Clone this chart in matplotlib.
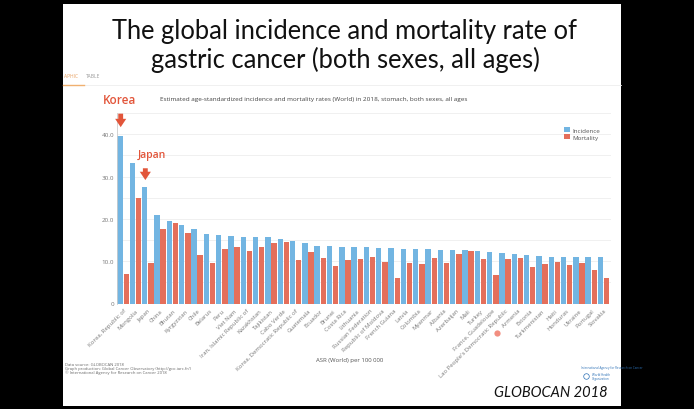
import matplotlib
matplotlib.use("Agg")
import matplotlib.pyplot as plt
from matplotlib.patches import Rectangle
import numpy as np

countries = ["Korea, Republic of", "Mongolia", "Japan", "China", "Bhutan", "Kyrgyzstan",
             "Chile", "Belarus", "Peru", "Viet Nam", "Iran, Islamic Republic of",
             "Kazakhstan", "Tajikistan", "Cabo Verde", "Korea, Democratic Republic of",
             "Guatemala", "Ecuador", "Brunei", "Costa Rica", "Lithuania",
             "Russian Federation", "Republic of Moldova", "French Guiana", "Latvia",
             "Colombia", "Myanmar", "Albania", "Azerbaijan", "Mali", "Turkey",
             "France, Guadeloupe", "Lao People's Democratic Republic", "Armenia",
             "Estonia", "Turkmenistan", "Haiti", "Honduras", "Ukraine", "Portugal",
             "Slovakia"]
incidence = [39.6, 33.2, 27.5, 20.8, 19.4, 18.6, 17.7, 16.5, 16.1, 15.9, 15.8, 15.7,
             15.6, 15.3, 14.7, 14.4, 13.7, 13.6, 13.4, 13.3, 13.3, 13.0, 13.0, 12.9,
             12.8, 12.8, 12.7, 12.7, 12.6, 12.5, 12.2, 11.9, 11.6, 11.4, 11.2, 11.1,
             11.1, 11.1, 11.1, 11.0]
mortality = [7.0, 24.9, 9.5, 17.5, 18.9, 16.7, 11.5, 9.6, 12.8, 13.4, 12.3, 13.4,
             14.4, 14.6, 10.3, 12.1, 10.8, 8.8, 10.2, 10.6, 10.9, 9.9, 6.0, 9.5,
             9.4, 10.7, 9.6, 11.8, 12.3, 10.4, 6.7, 10.5, 10.7, 8.6, 9.4, 9.9,
             9.0, 9.6, 7.8, 6.0]
yticks = [0, 10, 20, 30, 40]
ytick_labels = ["0", "10.0", "20.0", "30.0", "40.0"]

blue = "#72B5E2"
red = "#E46F5B"
grey = "#777777"

fig = plt.figure(figsize=(6.94, 4.10), dpi=100, facecolor="black")
W, H = 694, 410

def fx(px):
    return px / W

def fy(py):
    return 1 - py / H

# white slide
fig.patches.append(Rectangle((fx(63), fy(407)), fx(621) - fx(63), fy(5) - fy(407),
                             transform=fig.transFigure, facecolor="white",
                             edgecolor="none", zorder=-5))

# slide title
title_font = ["Lato", "DejaVu Sans"]
fig.text(fx(345), fy(31), "The global incidence and mortality rate of", ha="center",
         va="center", fontsize=18.4, family=title_font, color="#111111")
fig.text(fx(345), fy(60), "gastric cancer (both sexes, all ages)", ha="center",
         va="center", fontsize=18.4, family=title_font, color="#111111")

chart_font = ["Open Sans", "DejaVu Sans"]
# tabs
fig.text(fx(64), fy(77), "APHIC", fontsize=3.5, color="#E8A060", family=chart_font, va="center")
fig.text(fx(86), fy(77), "TABLE", fontsize=3.5, color="#999999", family=chart_font, va="center")
fig.add_artist(plt.Line2D([fx(63), fx(621)], [fy(86), fy(86)], color="#eeeeee", lw=0.6))
fig.add_artist(plt.Line2D([fx(63), fx(84)], [fy(86), fy(86)], color="#F0B070", lw=1.0))

fig.text(fx(103), fy(100), "Korea", fontsize=8.5, color="#E2553A", family=chart_font,
         va="center", fontweight="semibold")
fig.text(fx(160), fy(100), "Estimated age-standardized incidence and mortality rates (World) "
         "in 2018, stomach, both sexes, all ages", fontsize=4.6, color="#444444",
         family=chart_font, va="center")

ax = fig.add_axes([fx(117), fy(304.5), fx(611) - fx(117), fy(114) - fy(304.5)])
ax.set_zorder(2)
ax.set_facecolor("white")
x = np.arange(len(countries))
w = 0.44
ax.bar(x - w / 2 - 0.03, incidence, w, color=blue, label="Incidence", zorder=2)
ax.bar(x + w / 2 + 0.03, mortality, w, color=red, label="Mortality", zorder=2)
ax.set_xlim(-0.5, 39.6)
ax.set_ylim(0, 45)
ax.set_yticks(yticks)
ax.set_yticklabels(ytick_labels)
ax.set_yticks(np.arange(5, 46, 10), minor=True)
ax.grid(axis="y", which="both", color="#eeeeee", lw=0.6, zorder=0)
ax.tick_params(axis="y", which="both", length=0, labelsize=4.5, labelcolor=grey, pad=2)
for lab in ax.get_yticklabels():
    lab.set_family(chart_font)
ax.set_xticks(x)
ax.set_xticklabels(countries, rotation=45, ha="right", rotation_mode="anchor",
                   fontsize=4.3, color=grey, family=chart_font)
ax.tick_params(axis="x", length=0, pad=3)
for s in ["top", "right", "bottom"]:
    ax.spines[s].set_visible(False)
ax.spines["left"].set_color("#cccccc")
ax.spines["left"].set_linewidth(0.6)
ax.legend(loc="upper right", bbox_to_anchor=(0.99, 0.955), frameon=False,
          prop={"family": chart_font, "size": 4.5}, handlelength=0.9, handleheight=0.9,
          handletextpad=0.5, labelspacing=0.15, labelcolor="#555555")

# annotations: arrows and Japan label
arrow = dict(arrowstyle="simple,head_width=0.8,head_length=0.6,tail_width=0.35",
             color="#E2553A", lw=0, mutation_scale=10)
ax.annotate("", xy=(-0.2, 41.0), xytext=(-0.2, 45.5), arrowprops=arrow,
            annotation_clip=False)
ax.annotate("", xy=(1.8, 28.5), xytext=(1.8, 32.6), arrowprops=arrow,
            annotation_clip=False)
ax.text(1.2, 35.2, "Japan", fontsize=7.5, color="#E2553A", family=chart_font,
        fontweight="semibold", va="center")

fig.text(fx(350), fy(361), "ASR (World) per 100 000", fontsize=4.3, color="#555555",
         family=chart_font, ha="center", va="center")
fig.text(fx(65), fy(369), "Data source: GLOBOCAN 2018\nGraph production: Global Cancer "
         "Observatory (http://gco.iarc.fr/)\n© International Agency for Research on Cancer 2018",
         fontsize=3.0, color="#666666", family=chart_font, va="center", linespacing=1.0)
fig.text(fx(581), fy(368), "International Agency for Research on Cancer", fontsize=2.2,
         color="#2A6FB5", family=chart_font, va="center")
fig.text(fx(592), fy(377), "World Health\nOrganization", fontsize=2.2,
         color="#2A6FB5", family=chart_font, va="center", linespacing=1.0)
fig.add_artist(plt.Line2D([fx(586)], [fy(377)], marker="o", markersize=4,
                          markerfacecolor="none", markeredgecolor="#2A6FB5", mew=0.5))
fig.add_artist(plt.Line2D([fx(497)], [fy(334)], marker="o", markersize=4.5,
                          markerfacecolor="#F07A6A", markeredgecolor="none", alpha=0.85))

fig.text(fx(608), fy(393), "GLOBOCAN 2018", fontsize=10.5, style="italic",
         color="#111111", family=title_font, ha="right", va="center")

fig.savefig("out.png", dpi=100, facecolor="black")
